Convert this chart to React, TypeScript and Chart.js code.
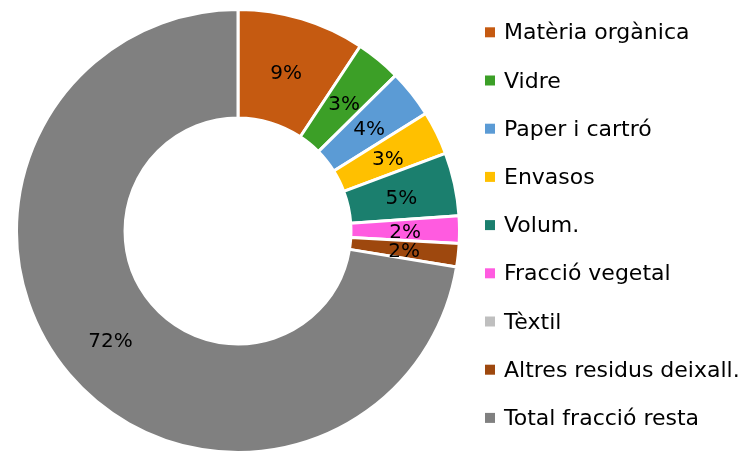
import React, { useEffect, useRef } from "react";
import { Chart, registerables } from "chart.js";

Chart.register(...registerables);

const categories = [
  "Matèria orgànica",
  "Vidre",
  "Paper i cartró",
  "Envasos",
  "Volum.",
  "Fracció vegetal",
  "Tèxtil",
  "Altres residus deixall.",
  "Total fracció resta",
];
const shares = [9.3, 3.3, 3.5, 3.2, 4.6, 2.0, 0, 1.7, 72.4];
const colors = [
  "#C55A11",
  "#3C9F27",
  "#5B9BD5",
  "#FFC000",
  "#1B7F6E",
  "#FF5BE0",
  "#BFBFBF",
  "#9E480E",
  "#808080",
];

const FONT = '"DejaVu Sans", "Liberation Sans", sans-serif';

const pctLabels = {
  id: "pctLabels",
  afterDatasetsDraw(chart: any) {
    const ctx = chart.ctx;
    const meta = chart.getDatasetMeta(0);
    const data = chart.data.datasets[0].data as number[];
    const total = data.reduce((a, b) => a + b, 0);
    ctx.save();
    ctx.font = `20px ${FONT}`;
    ctx.fillStyle = "#000000";
    ctx.textAlign = "center";
    ctx.textBaseline = "alphabetic";
    meta.data.forEach((arc: any, i: number) => {
      const v = data[i];
      if (!v) return;
      const p = arc.tooltipPosition(false);
      ctx.fillText(Math.round((v / total) * 100 + 1e-9) + "%", p.x, p.y + 8);
    });
    ctx.restore();
  },
};

const sideLegend = {
  id: "sideLegend",
  afterDraw(chart: any) {
    const ctx = chart.ctx;
    const x0 = chart.chartArea.right + 24;
    const top = 31.3;
    const step = 48.2;
    const labels = chart.data.labels as string[];
    const bg = chart.data.datasets[0].backgroundColor as string[];
    ctx.save();
    ctx.font = `22px ${FONT}`;
    ctx.textAlign = "left";
    ctx.textBaseline = "alphabetic";
    labels.forEach((c, i) => {
      const cy = top + i * step;
      ctx.fillStyle = bg[i];
      ctx.fillRect(x0, cy - 4, 10, 10);
      ctx.fillStyle = "#000000";
      ctx.fillText(c, x0 + 19, cy + 8);
    });
    ctx.restore();
  },
};

export default function App() {
  const ref = useRef<HTMLCanvasElement | null>(null);
  useEffect(() => {
    if (!ref.current) return;
    const chart = new Chart(ref.current, {
      type: "doughnut",
      data: {
        labels: categories,
        datasets: [
          {
            data: shares,
            backgroundColor: colors,
            borderColor: "#ffffff",
            borderWidth: 3,
            hoverOffset: 0,
            offset: 0,
          },
        ],
      },
      options: {
        animation: false,
        responsive: true,
        maintainAspectRatio: false,
        cutout: "51%",
        layout: { padding: { left: 15, top: 8, right: 281, bottom: 0 } },
        plugins: {
          legend: { display: false },
          tooltip: { enabled: false },
        },
      },
      plugins: [pctLabels, sideLegend],
    });
    return () => chart.destroy();
  }, []);
  return (
    <div
      style={{
        position: "fixed",
        left: 0,
        top: 0,
        width: 742,
        height: 454,
        background: "#ffffff",
      }}
    >
      <canvas ref={ref} />
    </div>
  );
}
